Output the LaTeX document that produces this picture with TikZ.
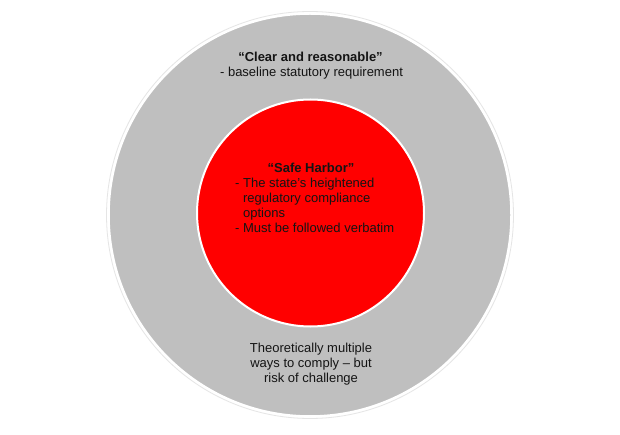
\documentclass[tikz,border=0pt]{standalone}
\usepackage{fontspec}
\setmainfont{Liberation Sans}
\definecolor{ringgray}{RGB}{191,191,191}
\definecolor{innerred}{RGB}{255,0,0}
\definecolor{darktext}{RGB}{20,20,20}
\begin{document}
\begin{tikzpicture}[x=1pt,y=-1pt,
  txt/.style={font=\fontsize{13}{15}\selectfont, inner sep=0pt, anchor=base, text=darktext},
  txtl/.style={txt, anchor=base west},
  bold/.style={font=\fontsize{13}{15}\selectfont\bfseries}]
\useasboundingbox (0,0) rectangle (620,435);
\fill[white] (0,0) rectangle (620,435);
\node[circle, minimum size=407pt, inner sep=0pt, draw=black!10, line width=0.8pt] (halo) at (310,215) {};
\node[circle, minimum size=402pt, inner sep=0pt, fill=ringgray, draw=white, line width=1.5pt] (outer) at (310,215) {};
\node[circle, minimum size=227pt, inner sep=0pt, fill=innerred, draw=white, line width=2pt] (inner) at (310.5,213) {};
% outer ring text
\node[txt, bold] (t1) at (310.5,62) {“Clear and reasonable”};
\node[txt] (t2) at (311.5,77) {- baseline statutory requirement};
% inner text
\node[txt, bold] (s1) at (311,173) {“Safe Harbor”};
\node[txtl] (s2) at (235,188) {- The state’s heightened};
\node[txtl] (s3) at (235,203) {\hphantom{- }regulatory compliance};
\node[txtl] (s4) at (235,218) {\hphantom{- }options};
\node[txtl] (s5) at (235,233) {- Must be followed verbatim};
% bottom text
\node[txt] (b1) at (311,352) {Theoretically multiple};
\node[txt] (b2) at (311,367) {ways to comply – but};
\node[txt] (b3) at (311,382) {risk of challenge};
\end{tikzpicture}
\end{document}
